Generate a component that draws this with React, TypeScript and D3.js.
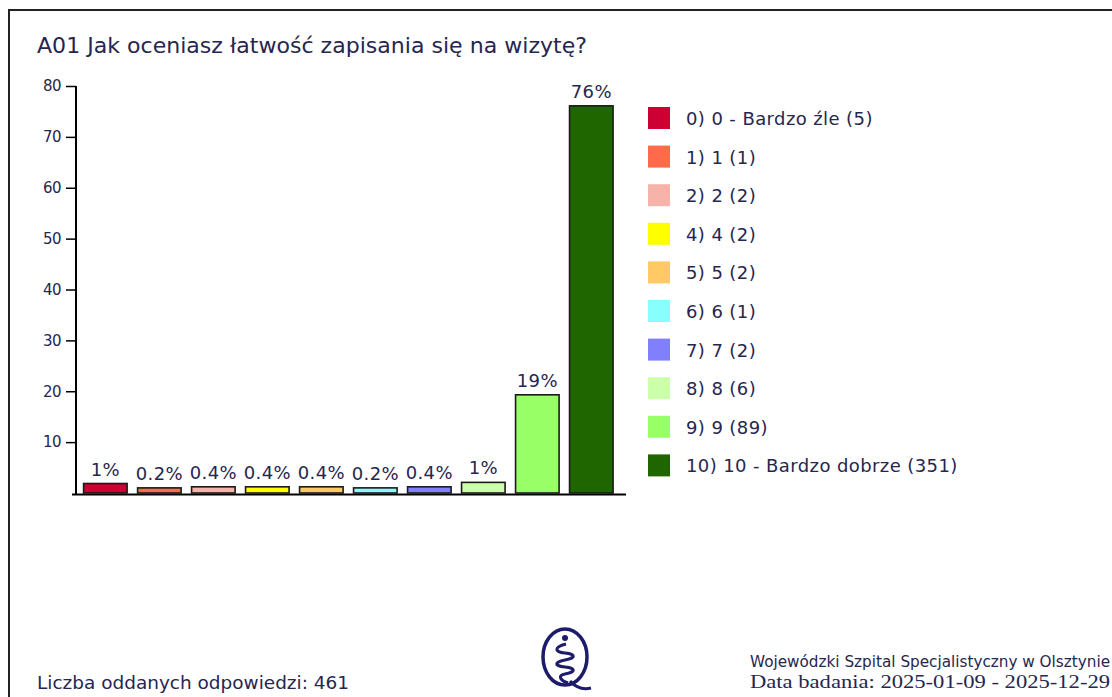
import * as d3 from 'd3';
import { useEffect, useRef } from 'react';

const title = 'A01 Jak oceniasz łatwość zapisania się na wizytę?';
const categories = ['0) 0 - Bardzo źle', '1) 1', '2) 2', '4) 4', '5) 5', '6) 6', '7) 7', '8) 8', '9) 9', '10) 10 - Bardzo dobrze'];
const counts = [5, 1, 2, 2, 2, 1, 2, 6, 89, 351];
const percents = [1.08, 0.22, 0.43, 0.43, 0.43, 0.22, 0.43, 1.3, 19.3, 76.1];
const percentLabels = ['1%', '0.2%', '0.4%', '0.4%', '0.4%', '0.2%', '0.4%', '1%', '19%', '76%'];
const colors = ['#cc0033', '#ff6b4a', '#f5b3aa', '#ffff00', '#ffc966', '#88ffff', '#8080ff', '#ccffaa', '#99ff66', '#1f6600'];
const yTicks = [10, 20, 30, 40, 50, 60, 70, 80];
const totalLabel = 'Liczba oddanych odpowiedzi: 461';
const hospital = 'Wojewódzki Szpital Specjalistyczny w Olsztynie';
const period = 'Data badania: 2025-01-09 - 2025-12-29';

const W = 1112, H = 697;
const ink = '#262650';
const font = 'DejaVu Sans, Verdana, sans-serif';

export default function App() {
  const ref = useRef<SVGSVGElement>(null);

  useEffect(() => {
    const svg = d3.select(ref.current);
    svg.selectAll('*').remove();

    svg.append('rect').attr('width', W).attr('height', H).attr('fill', '#fff');

    // outer frame, runs off the right and bottom edges
    svg.append('path')
      .attr('d', `M9,${H + 5}V10H${W + 5}`)
      .attr('fill', 'none')
      .attr('stroke', '#222')
      .attr('stroke-width', 2);

    svg.append('text')
      .attr('x', 37).attr('y', 53)
      .attr('font-family', font).attr('font-size', 20.5)
      .attr('fill', ink)
      .attr('textLength', 550).attr('lengthAdjust', 'spacingAndGlyphs')
      .text(title);

    const x = d3.scaleBand<number>()
      .domain(d3.range(categories.length))
      .range([76, 626])
      .paddingInner(0.194)
      .paddingOuter(0.19)
      .align(0.37);
    const y = d3.scaleLinear().domain([0, 80]).range([493, 86]);

    const yAxis = svg.append('g')
      .attr('transform', 'translate(76,0)')
      .call(d3.axisLeft(y).tickValues(yTicks).tickSize(10).tickSizeOuter(0).tickPadding(5));
    yAxis.select('.domain').attr('stroke', '#000').attr('stroke-width', 2).attr('d', `M0,${y(80)}V${y(0) + 2}`);
    yAxis.selectAll('.tick line').attr('stroke', '#000').attr('stroke-width', 1.5);
    yAxis.selectAll('.tick text')
      .attr('fill', ink).attr('font-family', font).attr('font-size', 15)
      .attr('letter-spacing', -0.5);

    svg.append('line')
      .attr('x1', 72).attr('x2', 626)
      .attr('y1', y(0) + 1.5).attr('y2', y(0) + 1.5)
      .attr('stroke', '#000').attr('stroke-width', 2);

    const idx = d3.range(categories.length);
    // tiny bars get a small stub so their fill stays visible
    const barTop = (i: number) => percents[i] < 5 ? y(percents[i]) - 4 : y(percents[i]);

    svg.append('g').selectAll('rect').data(idx).join('rect')
      .attr('x', i => x(i)!)
      .attr('width', x.bandwidth())
      .attr('y', i => barTop(i))
      .attr('height', i => y(0) - barTop(i))
      .attr('fill', i => colors[i])
      .attr('stroke', '#1a1a1a')
      .attr('stroke-width', 1.6);

    svg.append('g').selectAll('text').data(idx).join('text')
      .attr('x', i => x(i)! + x.bandwidth() / 2)
      .attr('y', i => barTop(i) - 8)
      .attr('text-anchor', 'middle')
      .attr('font-family', font).attr('font-size', 18)
      .attr('letter-spacing', 0.4)
      .attr('fill', ink)
      .text(i => percentLabels[i]);

    const legend = svg.append('g').selectAll('g').data(idx).join('g')
      .attr('transform', i => `translate(648,${107 + i * 38.6})`);
    legend.append('rect')
      .attr('width', 22).attr('height', 22)
      .attr('fill', i => colors[i]);
    legend.append('text')
      .attr('x', 38).attr('y', 18)
      .attr('font-family', font).attr('font-size', 18)
      .attr('letter-spacing', 0.4)
      .attr('fill', ink)
      .text(i => `${categories[i]} (${counts[i]})`);

    svg.append('text')
      .attr('x', 37).attr('y', 689)
      .attr('font-family', font).attr('font-size', 17)
      .attr('fill', ink)
      .attr('textLength', 312).attr('lengthAdjust', 'spacingAndGlyphs')
      .text(totalLabel);

    svg.append('text')
      .attr('x', 750).attr('y', 667)
      .attr('font-family', font).attr('font-size', 15)
      .attr('fill', ink)
      .attr('textLength', 360).attr('lengthAdjust', 'spacingAndGlyphs')
      .text(hospital);

    svg.append('text')
      .attr('x', 750).attr('y', 688)
      .attr('font-family', 'Liberation Serif, serif').attr('font-size', 18)
      .attr('fill', ink)
      .attr('textLength', 360).attr('lengthAdjust', 'spacingAndGlyphs')
      .text(period);

    // logo: Q ring with a helix inside
    const logo = svg.append('g').attr('transform', 'translate(565,657)')
      .attr('fill', 'none').attr('stroke', '#1c1c6b');
    logo.append('ellipse').attr('rx', 22).attr('ry', 28).attr('stroke-width', 3.5);
    logo.append('path').attr('d', 'M5,24 Q14,34 26,31').attr('stroke-width', 3);
    logo.append('circle').attr('cx', 0).attr('cy', -19).attr('r', 3).attr('fill', '#1c1c6b').attr('stroke', 'none');
    logo.append('path')
      .attr('d', 'M1,-13 C-11,-10 -11,-5 0,-4 C11,-3 11,1 0,3 C-11,5 -11,9 0,10 C11,11 11,15 0,17 C-7,18 -6,23 3,26')
      .attr('stroke-width', 3);
  }, []);

  return (
    <svg ref={ref} width={W} height={H}
      style={{ position: 'absolute', left: 0, top: 0, display: 'block' }} />
  );
}
